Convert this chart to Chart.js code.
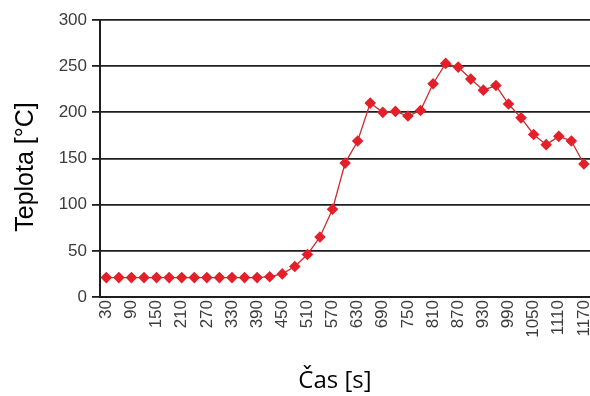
<!DOCTYPE html>
<html>
<head>
<meta charset="utf-8">
<script src="https://cdn.jsdelivr.net/npm/chart.js@4/dist/chart.umd.min.js"></script>
<style>
  html, body { margin: 0; padding: 0; background: #ffffff; overflow: hidden; }
  #wrap { width: 590px; height: 396px; overflow: hidden; }
  canvas { display: block; }
</style>
</head>
<body>
<div id="wrap"><canvas id="c" width="596" height="396"></canvas></div>
<script>
// Time of measurement [s]
const casy = [30, 60, 90, 120, 150, 180, 210, 240, 270, 300, 330, 360, 390, 420, 450, 480, 510, 540, 570, 600,
              630, 660, 690, 720, 750, 780, 810, 840, 870, 900, 930, 960, 990, 1020, 1050, 1080, 1110, 1140, 1170];
// Temperature [°C]
const teploty = [21, 21, 21, 21, 21, 21, 21, 21, 21, 21, 21, 21, 21, 22, 25, 33, 46, 65, 95, 145,
                 169, 210, 200, 201, 196, 202, 231, 253, 249, 236, 224, 229, 209, 194, 176, 165, 174, 169, 144];
// Temperature axis ticks
const yTicks = [0, 50, 100, 150, 200, 250, 300];
// Axis titles
const titulekX = 'Čas [s]';
const titulekY = 'Teplota [°C]';

// Draws both axis titles at fixed spots around the plot
const axisTitles = {
  id: 'axisTitles',
  afterDraw(chart) {
    const ctx = chart.ctx;
    ctx.save();
    ctx.fillStyle = '#000';
    ctx.textAlign = 'center';
    ctx.textBaseline = 'middle';
    ctx.font = '24px "Open Sans"';
    ctx.fillText(titulekX, 335, 381);
    ctx.translate(26, 167);
    ctx.rotate(-Math.PI / 2);
    ctx.font = '25px "Liberation Sans"';
    ctx.fillText(titulekY, 0, 0);
    ctx.restore();
  }
};

new Chart(document.getElementById('c'), {
  type: 'line',
  data: {
    labels: casy.map(String),
    datasets: [{
      data: teploty,
      borderColor: '#cf2a30',
      borderWidth: 1.3,
      pointStyle: 'rectRot',
      pointRadius: 5.8,
      pointBackgroundColor: '#e3202a',
      pointBorderWidth: 0,
      tension: 0,
      fill: false
    }]
  },
  plugins: [axisTitles],
  options: {
    responsive: false,
    animation: false,
    devicePixelRatio: 1,
    layout: { padding: { top: 20, right: 0, left: 0, bottom: 0 } },
    plugins: { legend: { display: false }, tooltip: { enabled: false } },
    scales: {
      x: {
        type: 'category',
        offset: true,
        grid: { display: false, drawTicks: false },
        border: { color: '#1e1e1e', width: 2 },
        ticks: {
          autoSkip: false,
          minRotation: 90,
          maxRotation: 90,
          padding: 3,
          color: '#3c3c3c',
          font: { family: 'Liberation Sans', size: 17 },
          callback: (v, i) => (i % 2 === 0 ? casy[i] : '')
        },
        afterFit: s => { s.height = 99; s.paddingLeft = 0; s.paddingRight = 0; }
      },
      y: {
        min: 0,
        max: 300,
        afterBuildTicks: s => { s.ticks = yTicks.map(v => ({ value: v })); },
        grid: { color: '#1e1e1e', lineWidth: 1.8, tickLength: 8, tickColor: '#1e1e1e' },
        border: { color: '#1e1e1e', width: 2 },
        ticks: {
          padding: 5,
          color: '#3c3c3c',
          font: { family: 'Liberation Sans', size: 17 }
        },
        afterFit: s => { s.width = 100; }
      }
    }
  }
});
</script>
</body>
</html>
